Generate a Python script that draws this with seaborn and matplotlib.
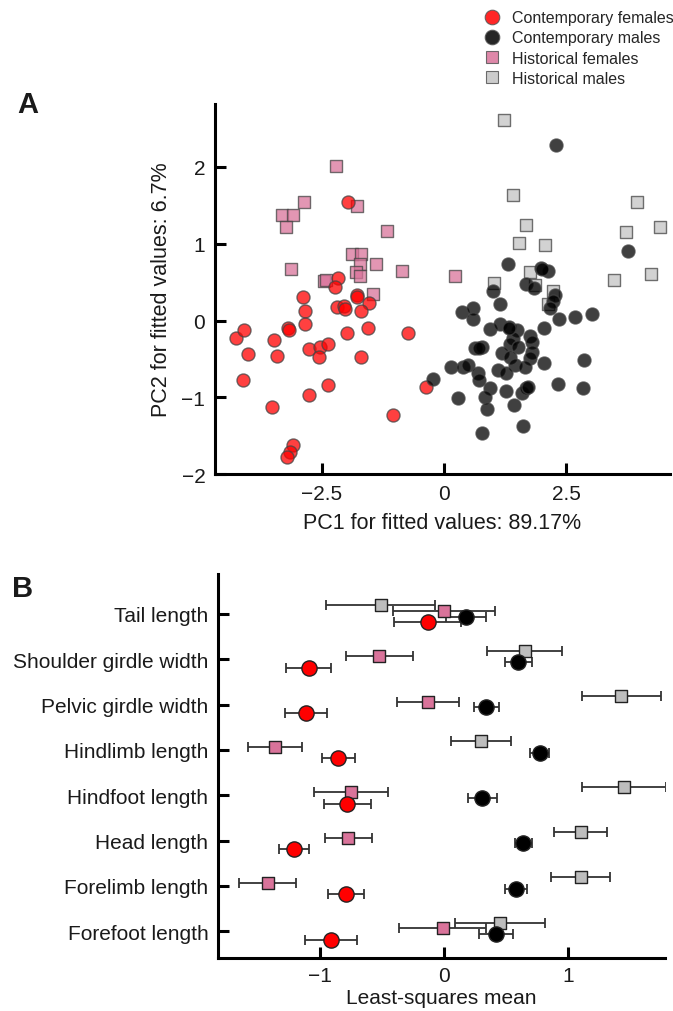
import numpy as np
import pandas as pd
import matplotlib
matplotlib.use("Agg")
import matplotlib.pyplot as plt
import seaborn as sns
from matplotlib.lines import Line2D

sns.set_theme(style="white")
plt.rcParams["font.family"] = ["Liberation Sans", "DejaVu Sans"]
plt.rcParams["axes.unicode_minus"] = True

# ---------------- data: panel A (PCA scores) ----------------
groups = ["Contemporary females", "Contemporary males", "Historical females", "Historical males"]

cf_pc1 = [-1.96, -2.17, -2.23, -2.88, -1.78, -1.79, -1.53, -2.85, -2.19, -2.04, -2.03, -1.70,
          -4.26, -4.09, -4.01, -4.11, -3.48, -3.43, -3.52, -3.19, -3.18, -2.84, -2.77, -2.54,
          -2.56, -2.38, -2.76, -2.37, -1.99, -1.55, -1.69, -0.73, -0.375, -1.04, -3.10, -3.16, -3.22]
cf_pc2 = [1.54, 0.56, 0.44, 0.31, 0.33, 0.30, 0.23, 0.13, 0.17, 0.19, 0.15, 0.12,
          -0.23, -0.13, -0.44, -0.78, -0.26, -0.46, -1.13, -0.10, -0.12, -0.05, -0.37, -0.34,
          -0.48, -0.31, -0.97, -0.84, -0.16, -0.095, -0.47, -0.16, -0.87, -1.23, -1.62, -1.71, -1.78]

cm_pc1 = [2.29, 3.76, 1.32, 1.99, 2.14, 1.00, 1.69, 1.85, 2.27, 2.23, 2.17, 1.15, 0.36, 0.60,
          2.68, 3.03, 2.36, 0.60, 0.94, 1.15, 1.33, 1.50, 1.76, 2.04, 1.42, 1.35, 1.80, 1.52,
          1.80, 0.64, 0.77, 1.18, 1.35, 1.76, 2.04, 1.45, 1.66, 0.15, 0.40, 0.50, 0.70, 0.72,
          1.11, 1.27, 2.87, 2.34, 2.84, 0.94, 0.84, 1.28, 1.59, 1.69, 1.72, 0.29, 0.89, 1.43,
          0.77, 1.61, -0.22, 2.00, 1.34, 0.72]
cm_pc2 = [2.28, 0.90, 0.74, 0.69, 0.64, 0.39, 0.47, 0.42, 0.33, 0.25, 0.16, 0.21, 0.11, 0.16,
          0.05, 0.08, 0.02, 0.02, -0.11, -0.05, -0.08, -0.13, -0.20, -0.095, -0.23, -0.30, -0.28, -0.35,
          -0.41, -0.355, -0.34, -0.42, -0.48, -0.49, -0.56, -0.58, -0.60, -0.60, -0.60, -0.58, -0.69, -0.78,
          -0.645, -0.69, -0.515, -0.83, -0.88, -0.88, -0.99, -0.92, -0.95, -0.88, -0.86, -1.01, -1.15, -1.10,
          -1.46, -1.37, -0.76, 0.67, -0.10, -0.36]

hf_pc1 = [-2.22, -2.86, -3.32, -3.09, -3.23, -1.79, -1.16, -1.88, -1.69, -1.72, -1.39, -3.14,
          -0.85, -1.81, -1.71, -2.46, -2.42, -1.46, 0.23]
hf_pc2 = [2.01, 1.55, 1.38, 1.37, 1.22, 1.49, 1.17, 0.87, 0.86, 0.74, 0.74, 0.675,
          0.65, 0.63, 0.58, 0.51, 0.53, 0.35, 0.575]

hm_pc1 = [1.23, 1.41, 1.68, 1.54, 2.07, 3.96, 3.72, 4.43, 4.25, 3.48, 1.76, 1.02, 1.86, 2.23, 2.14]
hm_pc2 = [2.61, 1.64, 1.24, 1.01, 0.99, 1.55, 1.15, 1.22, 0.61, 0.53, 0.63, 0.49, 0.46, 0.385, 0.22]

# ---------------- data: panel B (least-squares means) ----------------
traits = ["Tail length", "Shoulder girdle width", "Pelvic girdle width", "Hindlimb length",
          "Hindfoot length", "Head length", "Forelimb length", "Forefoot length"]
hm_mean = [-0.51, 0.65, 1.43, 0.30, 1.45, 1.10, 1.10, 0.45]
hm_err = [0.44, 0.30, 0.32, 0.24, 0.34, 0.21, 0.24, 0.36]
hf_mean = [0.00, -0.52, -0.13, -1.36, -0.75, -0.77, -1.42, -0.01]
hf_err = [0.41, 0.27, 0.25, 0.22, 0.30, 0.19, 0.23, 0.35]
cm_mean = [0.18, 0.60, 0.34, 0.77, 0.31, 0.64, 0.58, 0.42]
cm_err = [0.16, 0.11, 0.10, 0.08, 0.12, 0.07, 0.085, 0.135]
cf_mean = [-0.13, -1.09, -1.11, -0.85, -0.78, -1.21, -0.79, -0.91]
cf_err = [0.27, 0.18, 0.17, 0.135, 0.19, 0.12, 0.145, 0.21]

# ---------------- styles ----------------
colA = {"Contemporary females": "#ff0000", "Contemporary males": "#000000",
        "Historical females": "#d9739a", "Historical males": "#c4c4c4"}
colB = {"Contemporary females": "#ff0000", "Contemporary males": "#000000",
        "Historical females": "#d9739a", "Historical males": "#bdbdbd"}
mk = {"Contemporary females": "o", "Contemporary males": "o",
      "Historical females": "s", "Historical males": "s"}
dodge = {"Historical males": -0.1875, "Historical females": -0.0625,
         "Contemporary males": 0.0625, "Contemporary females": 0.1875}

dfA = pd.concat([
    pd.DataFrame({"PC1": cf_pc1, "PC2": cf_pc2, "group": groups[0]}),
    pd.DataFrame({"PC1": cm_pc1, "PC2": cm_pc2, "group": groups[1]}),
    pd.DataFrame({"PC1": hf_pc1, "PC2": hf_pc2, "group": groups[2]}),
    pd.DataFrame({"PC1": hm_pc1, "PC2": hm_pc2, "group": groups[3]}),
], ignore_index=True)

means = {groups[0]: cf_mean, groups[1]: cm_mean, groups[2]: hf_mean, groups[3]: hm_mean}
errs = {groups[0]: cf_err, groups[1]: cm_err, groups[2]: hf_err, groups[3]: hm_err}
rows = []
for g in groups:
    for i, t in enumerate(traits):
        rows.append({"trait": t, "group": g, "mean": means[g][i], "err": errs[g][i],
                     "ypos": i + dodge[g]})
dfB = pd.DataFrame(rows)

fig = plt.figure(figsize=(6.73, 10.12), dpi=100)
axA = fig.add_axes([0.3195, 0.5306, 0.676, 0.3656])
axB = fig.add_axes([0.324, 0.0524, 0.664, 0.3794])

# ---------------- panel A ----------------
sizeA = {"o": 88, "s": 70}
for g in ["Historical males", "Historical females", "Contemporary females", "Contemporary males"]:
    sub = dfA[dfA.group == g]
    sns.scatterplot(data=sub, x="PC1", y="PC2", ax=axA, color=colA[g], marker=mk[g],
                    s=sizeA[mk[g]], alpha=0.75, edgecolor="#444444", linewidth=1.0,
                    legend=False, zorder=3)
axA.set_xlim(-4.69, 4.63)
axA.set_ylim(-2.0, 2.82)
axA.set_xticks([-2.5, 0, 2.5])
axA.set_xticklabels(["\u22122.5", "0", "2.5"])
axA.set_yticks([-2, -1, 0, 1, 2])
axA.set_yticklabels(["\u22122", "\u22121", "0", "1", "2"])
axA.set_xlabel("PC1 for fitted values: 89.17%", fontsize=15.5, color="#1a1a1a", labelpad=7)
axA.set_ylabel("PC2 for fitted values: 6.7%", fontsize=15.5, color="#1a1a1a", labelpad=7)

# ---------------- panel B ----------------
for g in ["Historical males", "Historical females", "Contemporary males", "Contemporary females"]:
    sub = dfB[dfB.group == g]
    axB.errorbar(sub["mean"], sub["ypos"], xerr=sub["err"], fmt="none", ecolor="#333333",
                 elinewidth=1.3, capsize=3.5, capthick=1.3, zorder=2)
sizeB = {"o": 120, "s": 78}
for g in ["Historical males", "Historical females", "Contemporary males", "Contemporary females"]:
    sub = dfB[dfB.group == g]
    sns.scatterplot(data=sub, x="mean", y="ypos", ax=axB, color=colB[g], marker=mk[g],
                    s=sizeB[mk[g]], edgecolor="#222222", linewidth=1.0, legend=False, zorder=4)
axB.set_yticks(range(len(traits)))
axB.set_yticklabels(traits)
axB.set_ylim(7.59, -0.88)
axB.set_xlim(-1.82, 1.78)
axB.set_xticks([-1, 0, 1])
axB.set_xticklabels(["\u22121", "0", "1"])
axB.set_xlabel("Least-squares mean", fontsize=15, color="#1a1a1a", labelpad=2)
axB.set_ylabel("")

for ax in (axA, axB):
    sns.despine(ax=ax)
    for s in ("left", "bottom"):
        ax.spines[s].set_linewidth(2.2)
        ax.spines[s].set_color("black")
    ax.tick_params(axis="both", which="major", direction="in", length=8, width=2.2,
                   bottom=True, left=True, labelsize=15, pad=7, color="black",
                   labelcolor="#1a1a1a")
axB.tick_params(axis="x", pad=6)

# ---------------- legend ----------------
handles = [Line2D([], [], linestyle="none", marker=mk[g], markersize=(10.5 if mk[g] == "o" else 8.8),
                  markerfacecolor=colA[g], markeredgecolor="#555555", markeredgewidth=0.8,
                  alpha=0.85, label=g) for g in groups]
fig.legend(handles=handles, loc="upper left", bbox_to_anchor=(0.719, 0.989), frameon=False,
           borderaxespad=0, borderpad=0, handlelength=1.0, handletextpad=0.75,
           labelspacing=0.33, fontsize=11.5)

fig.text(17 / 673, 1 - 105 / 1012, "A", fontsize=21, fontweight="bold", ha="left", va="center",
         color="#1a1a1a")
fig.text(12 / 673, 1 - 589 / 1012, "B", fontsize=21, fontweight="bold", ha="left", va="center",
         color="#1a1a1a")

fig.savefig("out.png", dpi=100)
